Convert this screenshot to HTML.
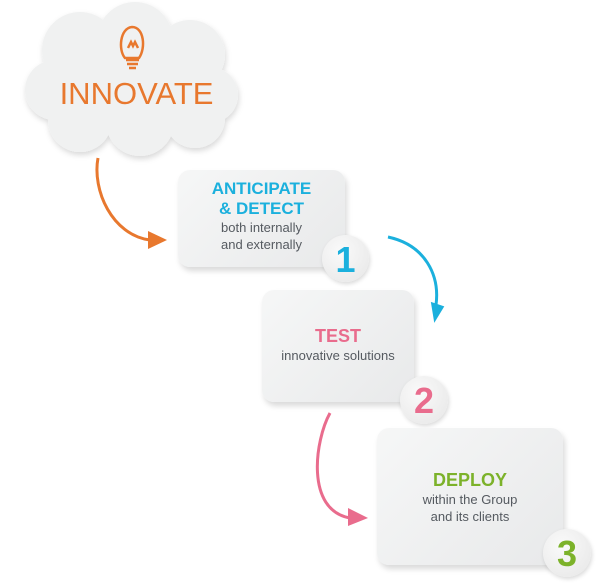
<!DOCTYPE html>
<html><head><style>
body{margin:0;background:#fff;width:600px;height:585px;overflow:hidden;font-family:"Liberation Sans",sans-serif;}
.box{position:absolute;border-radius:12px;background:linear-gradient(135deg,#f6f7f7,#e8e9ea);box-shadow:2px 4px 6px rgba(0,0,0,0.15);text-align:center;}
.c{position:absolute;border-radius:50%;background:radial-gradient(circle at 40% 35%,#fafafa,#e6e6e6);box-shadow:1px 2px 4px rgba(0,0,0,0.15);text-align:center;font-weight:bold;font-size:36px;}
.t{position:absolute;left:0;right:0;text-align:center;}
.g{color:#555a60;font-size:13px;line-height:17px;}
</style></head><body>
<svg width="600" height="585" style="position:absolute;left:0;top:0">
<defs><filter id="s"><feDropShadow dx="1" dy="3" stdDeviation="3" flood-opacity="0.15"/></filter></defs>
<g filter="url(#s)" fill="#f0f1f1">
<circle cx="80" cy="50" r="38"/><circle cx="135" cy="40" r="38"/><circle cx="190" cy="55" r="35"/>
<circle cx="55" cy="90" r="30"/><circle cx="210" cy="95" r="28"/><circle cx="80" cy="120" r="32"/>
<circle cx="140" cy="122" r="34"/><circle cx="195" cy="118" r="30"/><rect x="60" y="50" width="150" height="80"/>
</g>
<g stroke="#e8782e" stroke-width="2.5" fill="none">
<path d="M125 58 C118 50,120 28,132 27 C144 27,146 48,139 58 Z"/>
<path d="M126 60 h13 M127 64 h11 M129 68 h7"/>
<path d="M128 48 l3 -6 l2 4 l2 -4 l3 6"/>
</g>
<path d="M98 158 C92 190,112 235,150 240" stroke="#e8782e" stroke-width="3" fill="none"/>
<polygon points="148,231 167,240 148,249" fill="#e8782e"/>
<path d="M388 237 C425 245,440 275,436 305" stroke="#1bb0dd" stroke-width="3" fill="none"/>
<polygon points="429,303 443,305 436,323 " fill="#1bb0dd" transform="rotate(10 436 313)"/>
<path d="M330 413 C315 440,305 510,350 518" stroke="#e96c8d" stroke-width="3" fill="none"/>
<polygon points="348,508 368,518 348,526" fill="#e96c8d"/>
</svg>
<div class="t" style="left:28px;right:auto;width:217px;top:76px;font-size:31px;color:#e8782e">INNOVATE</div>
<div class="box" style="left:178px;top:170px;width:167px;height:97px">
<div style="color:#1bb0dd;font-weight:bold;font-size:17px;line-height:20px;margin-top:9px">ANTICIPATE<br>&amp; DETECT</div>
<div class="g">both internally<br>and externally</div></div>
<div class="c" style="left:322px;top:235px;width:47px;height:47px;line-height:50px;color:#1bb0dd">1</div>
<div class="box" style="left:262px;top:290px;width:152px;height:112px">
<div style="color:#e96c8d;font-weight:bold;font-size:18px;margin-top:36px">TEST</div>
<div class="g">innovative solutions</div></div>
<div class="c" style="left:400px;top:376px;width:48px;height:48px;line-height:50px;color:#e96c8d">2</div>
<div class="box" style="left:377px;top:428px;width:186px;height:137px">
<div style="color:#7cb22a;font-weight:bold;font-size:18px;margin-top:42px">DEPLOY</div>
<div class="g">within the Group<br>and its clients</div></div>
<div class="c" style="left:543px;top:529px;width:48px;height:48px;line-height:50px;color:#7cb22a">3</div>
</body></html>
